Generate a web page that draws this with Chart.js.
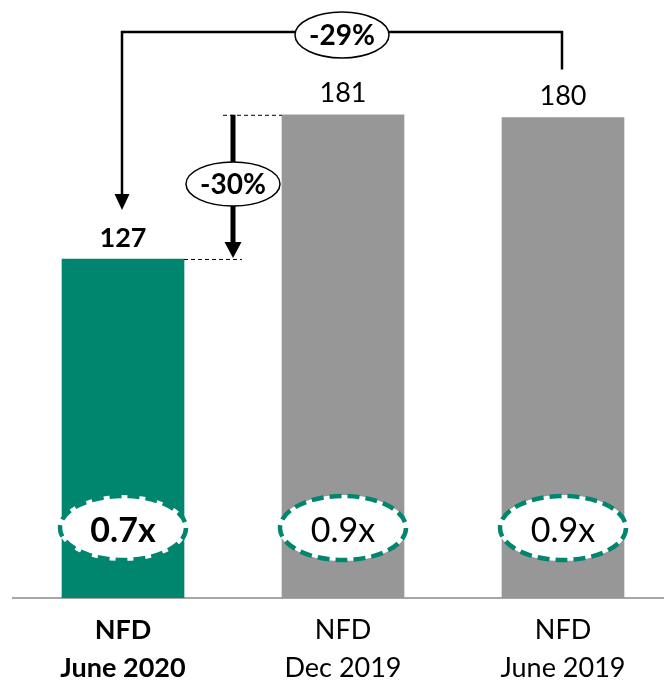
<!DOCTYPE html>
<html lang="en">
<head>
  <meta charset="UTF-8">
  <title>NFD</title>
  <script src="https://cdn.jsdelivr.net/npm/chart.js"></script>
  <style>
    html, body {
      margin: 0;
      padding: 0;
      background: #fff;
      overflow: hidden;
    }

    #wrap {
      position: absolute;
      left: 0;
      top: 0;
    }
  </style>
</head>
<body>
  <div id="wrap">
    <canvas id="chartCanvas" width="673" height="681"></canvas>
  </div>

  <script>
    const categories = [['NFD', 'June 2020'], ['NFD', 'Dec 2019'], ['NFD', 'June 2019']];
    const values = [127, 181, 180];
    const multiples = ['0.7x', '0.9x', '0.9x'];
    const changes = ['-29%', '-30%'];

    const teal = '#00866E';
    const gray = '#979797';
    const barColors = [teal, gray, gray];

    function arrowHead(ctx, x, tipY, w, h) {
      ctx.beginPath();
      ctx.moveTo(x - w / 2, tipY - h);
      ctx.lineTo(x + w / 2, tipY - h);
      ctx.lineTo(x, tipY);
      ctx.closePath();
      ctx.fill();
    }

    function bubble(ctx, x, y, rx, ry, text) {
      ctx.beginPath();
      ctx.ellipse(x, y, rx, ry, 0, 0, Math.PI * 2);
      ctx.fillStyle = '#fff';
      ctx.fill();
      ctx.lineWidth = 1.5;
      ctx.strokeStyle = '#000';
      ctx.stroke();
      ctx.fillStyle = '#000';
      ctx.font = 'bold 28px Lato';
      ctx.fillText(text, x, y + 1);
    }

    const annotate = {
      id: 'annotate',
      afterDatasetsDraw(chart) {
        const { ctx, chartArea } = chart;
        const bars = chart.getDatasetMeta(0).data;
        const half = bars[0].width / 2;
        ctx.save();
        ctx.textAlign = 'center';
        ctx.textBaseline = 'middle';

        // value labels
        bars.forEach((b, i) => {
          ctx.fillStyle = '#000';
          ctx.font = (i === 0 ? 'bold ' : '') + '27px Lato';
          ctx.fillText(String(values[i]), b.x, b.y - 21);
        });

        // multiple ellipses
        bars.forEach((b, i) => {
          const cy = chartArea.bottom - 70;
          ctx.beginPath();
          ctx.ellipse(b.x, cy, 63, 32, 0, 0, Math.PI * 2);
          ctx.fillStyle = '#fff';
          ctx.fill();
          ctx.lineWidth = 2;
          ctx.strokeStyle = '#fff';
          ctx.stroke();
          ctx.setLineDash([12, 6]);
          ctx.lineWidth = 4.5;
          ctx.strokeStyle = teal;
          ctx.stroke();
          ctx.setLineDash([]);
          ctx.fillStyle = '#000';
          ctx.font = (i === 0 ? 'bold ' : '') + '34px Lato';
          ctx.fillText(multiples[i], b.x, cy + 3);
        });

        // dashed guides for -30%
        const midX = (bars[0].x + bars[1].x) / 2;
        ctx.strokeStyle = '#000';
        ctx.lineWidth = 1;
        ctx.setLineDash([4, 3]);
        ctx.beginPath();
        ctx.moveTo(midX - 10, bars[1].y + 0.5);
        ctx.lineTo(bars[1].x - half, bars[1].y + 0.5);
        ctx.moveTo(bars[0].x + half, bars[0].y + 0.5);
        ctx.lineTo(midX + 9, bars[0].y + 0.5);
        ctx.stroke();
        ctx.setLineDash([]);

        // -30% arrow
        ctx.fillStyle = '#000';
        ctx.lineWidth = 5;
        ctx.beginPath();
        ctx.moveTo(midX, bars[1].y);
        ctx.lineTo(midX, bars[0].y - 14);
        ctx.stroke();
        arrowHead(ctx, midX, bars[0].y - 1, 17, 16);
        bubble(ctx, midX, 184, 47, 22, changes[1]);

        // -29% bracket
        const topY = 32;
        ctx.lineWidth = 2.5;
        ctx.beginPath();
        ctx.moveTo(bars[0].x - 1, bars[0].y - 62);
        ctx.lineTo(bars[0].x - 1, topY);
        ctx.lineTo(bars[2].x - 1, topY);
        ctx.lineTo(bars[2].x - 1, bars[2].y - 48);
        ctx.stroke();
        ctx.fillStyle = '#000';
        arrowHead(ctx, bars[0].x - 1, bars[0].y - 49, 15, 16);
        bubble(ctx, (bars[0].x + bars[2].x) / 2 - 1, 35, 47, 23, changes[0]);

        ctx.restore();
      }
    };

    const ctx = document.getElementById('chartCanvas').getContext('2d');
    new Chart(ctx, {
      type: 'bar',
      data: {
        labels: categories,
        datasets: [{
          data: values,
          backgroundColor: barColors,
          barThickness: 122
        }]
      },
      options: {
        responsive: false,
        animation: false,
        layout: {
          padding: { left: 13, right: 0, top: 0, bottom: 0 }
        },
        plugins: {
          legend: { display: false },
          tooltip: { enabled: false }
        },
        scales: {
          x: {
            afterFit: scale => { scale.height = 83; },
            grid: { display: false, drawTicks: false },
            border: { color: '#a6a6a6', width: 2 },
            ticks: {
              color: '#000',
              padding: 13,
              font: c => ({
                family: 'Lato',
                size: 27,
                weight: c.index === 0 ? 'bold' : 'normal',
                lineHeight: 38 / 27
              })
            }
          },
          y: {
            display: false,
            min: 0,
            max: 224
          }
        }
      },
      plugins: [annotate]
    });
  </script>
</body>
</html>
